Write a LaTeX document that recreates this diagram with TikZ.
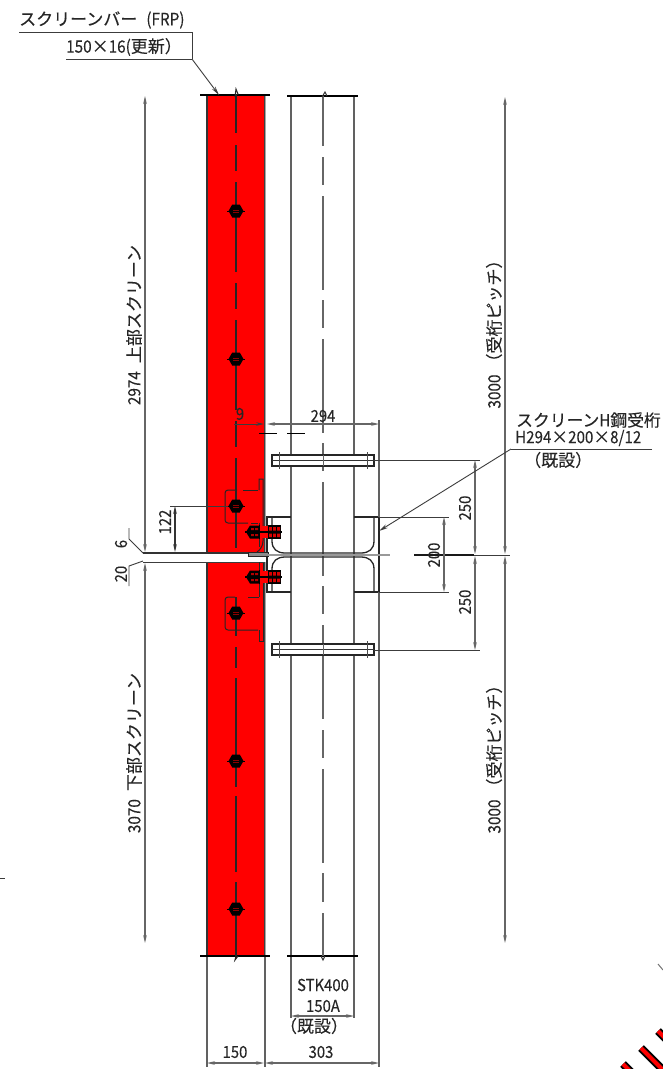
\documentclass[tikz,border=0pt]{standalone}
\usepackage{fontspec}
\setmainfont[FakeBold=0.12]{Noto Sans CJK JP}
\newfontfamily\hw[FakeStretch=0.9,FakeBold=0.12]{Noto Sans CJK JP}
\usetikzlibrary{arrows.meta}
\definecolor{scr}{RGB}{255,0,0}
\definecolor{ln}{RGB}{60,60,60}
\tikzset{
 thinl/.style={draw=ln,line width=0.9pt},
 obj/.style={draw=black!85,line width=1.3pt},
 gry/.style={draw=black!62,line width=1.6pt},
 dim/.style={draw=black!60,line width=1.1pt,{Stealth[length=8pt,width=3.6pt]}-{Stealth[length=8pt,width=3.6pt]}},
 ctr/.style={draw=black!60,line width=1.5pt},
 ctrb/.style={draw=black!85,line width=1.3pt},
 gus/.style={draw=black!85,line width=1pt},
 txt/.style={font=\fontsize{16.5}{17}\selectfont\hw,text=black!85,inner sep=0pt},
 jtx/.style={font=\fontsize{17}{18}\selectfont,text=black!85,inner sep=0pt},
 jts/.style={font=\fontsize{16.8}{18}\selectfont,text=black!85,inner sep=0pt},
}
\begin{document}
\begin{tikzpicture}[x=1pt,y=-1pt]
\useasboundingbox (0,0) rectangle (663,1069);
\fill[white] (0,0) rectangle (663,1069);
% red bars
\fill[scr] (207,95) rectangle (264,552);
\fill[scr] (207,562) rectangle (264,956);
\draw[black!80,line width=1.4pt] (206.8,95)--(206.8,552) (206.8,562)--(206.8,956);
\draw[black!75,line width=1pt] (264,95)--(264,552) (264,562)--(264,956);
\draw[black!35,line width=1.2pt] (265.5,95)--(265.5,552) (265.5,562)--(265.5,956);
\draw[gry] (291,95)--(291,956) (354,95)--(354,956);
% end lines
\draw[line width=1.1pt,black] (200,95)--(270,95) (287,96)--(358,96) (200,956)--(270,956) (287,956)--(358,956);
% centre lines
\foreach \a/\b in {95/133,145/171,182/272,283/309,320/410,421/447,458/548,597/636,647/668,678/787,796/872,882/956}
 \draw[ctrb] (236,\a)--(236,\b);
\draw[ctrb,line width=1pt] (235,97)--(236,89)--(238,94)--(236,95);
\draw[ctrb,line width=1pt] (236,956)--(235,960)--(238,956);
\foreach \a/\b in {96/146,157/185,196/290,300/328,339/433,443/471,482/576,586/614,625/719,730/758,769/863,873/902,913/956}
 \draw[ctr] (323,\a)--(323,\b);
\draw[black!80,line width=1pt] (322,97)--(325,92)--(327,96);
\draw[black!80,line width=1pt] (321,956)--(323,960)--(325,956);
% joint lines
\draw[line width=1.4pt,black!80] (143,553)--(250,553);
\draw[thinl] (143,562)--(264,562);
\draw[line width=1pt,black!85] (248,552.5)--(268,552.5)--(268,556.5)--(248,556.5)--cycle;
\fill[black!45] (248.5,553)--(267.5,553)--(267.5,556)--(248.5,556)--cycle;
% gussets
\draw[gus] (259,490)--(259,479)--(263,479)--(263,541) .. controls (263,546) and (260,550) .. (257,552);
\draw[gus] (259,523)--(259,547);
\draw[gus] (259,630)--(259,641)--(263,641)--(263,563) (259,562)--(259,597);
\draw[gus,rounded corners=3pt] (237,490)--(225,490)--(225,523)--(248,523);
\draw[gus] (243,490)--(258,490) (251,523)--(258,523);
\draw[gus,rounded corners=3pt] (235,597)--(225,597)--(225,630)--(258,630);
\draw[gus] (248,597)--(259,597);
% H-beam
\draw[obj] (291,517)--(267,517)--(267,553) (354,517)--(379,517)--(379,592)--(354,592) (291,592)--(267,592)--(267,557);
\draw[obj] (272,517)--(272,541) .. controls (272,549) and (277,553) .. (285,553)--(361,553) .. controls (369,553) and (374,549) .. (374,541)--(374,517);
\draw[obj] (272,592)--(272,569) .. controls (272,561) and (277,557) .. (285,557)--(361,557) .. controls (369,557) and (374,561) .. (374,569)--(374,592);
\fill[black!40] (268,553.8) rectangle (390,556);
% band plates
\foreach \y/\h in {455/460.5,644/649.5}{
 \fill[white] (272,\y) rectangle (374,\y+11);
 \draw[obj] (272,\y) rectangle (374,\y+11);
 \draw[line width=.9pt,black!80] (272,\h)--(374,\h);
 \draw[line width=.9pt,black!70] (279,\y-3)--(279,\y+14) (367,\y-3)--(367,\y+14);
 \draw[ctr,line width=1pt] (323,\y)--(323,\y+11);
}
% bolts on bars
\foreach \y in {211,359,506,613,761,909}{
 \fill[black] (236,\y) ++(7.5,0) -- ++(-3.75,6.5) -- ++(-7.5,0) -- ++(-3.75,-6.5) -- ++(3.75,-6.5) -- ++(7.5,0) -- cycle;
 \draw[black,line width=.8pt] (227,\y)--(245,\y);
 \draw[scr!55!black,line width=.5pt] (233,\y-1.2)--(239,\y-1.2) (233,\y+1.2)--(239,\y+1.2);
}
% bolts on plate
\foreach \y in {532,577}{
 \fill[black] (246,\y)--(250,\y-6.5)--(259,\y-6.5)--(259,\y+6.5)--(250,\y+6.5)--cycle;
 \fill[scr] (259,\y-6) rectangle (268,\y+6);
 \fill[black] (268,\y-7) rectangle (281,\y+7);
 \fill[scr!85!black] (269,\y-5) rectangle (280,\y-1.5) (269,\y+1.5) rectangle (280,\y+5);
 \fill[scr!70!black] (251,\y-4) rectangle (258,\y-2) (251,\y+2) rectangle (258,\y+4);
 \draw[black,line width=1.2pt] (245,\y)--(282,\y);
 \draw[black,line width=.9pt] (259,\y-7)--(259,\y+7) (268,\y-7)--(268,\y+7);
 \draw[black,line width=.8pt] (272,\y-7)--(272,\y+7) (276,\y-7)--(276,\y+7) (254,\y-6)--(254,\y+6);
}
% extension lines
\draw[gry,line width=1.2pt] (207,957)--(207,1067) (265,957)--(265,1067) (379,420)--(379,517) (379,592)--(379,1067) (291,957)--(291,1018) (354,957)--(354,1018);
\draw[thinl] (374,460)--(480,460) (374,650)--(480,650) (379,517)--(449,517) (379,592)--(449,592);
\draw[thinl] (170,506)--(228,506);
\draw[line width=1.5pt,black!90] (414,555)--(474,555);
\draw[thinl] (474,555)--(510,555);
% dimensions
\draw[dim] (145,96)--(145,552);
\draw[dim] (145,563)--(145,943);
\draw[dim] (505,97)--(505,554);
\draw[dim] (505,556)--(505,943);
\draw[dim] (475,460)--(475,554);
\draw[dim] (475,556)--(475,650);
\draw[dim] (444,517)--(444,592);
\draw[dim,draw=black!80] (175,506)--(175,552);
\draw[dim] (207,1063)--(264,1063);
\draw[dim] (265,1063)--(379,1063);
\draw[dim] (291,1016)--(354,1016);
\draw[thinl,-{Stealth[length=8pt,width=3.6pt]}] (234,424)--(264,424);
\draw[dim] (267,424)--(379,424);
\draw[line width=1pt,black] (259,433)--(277,433) (287,433)--(305,433);
% 6 / 20 leaders
\draw[thinl] (129,528)--(129,539)--(143,553);
\draw[thinl] (129,586)--(129,566)--(143,561);
% callouts
\draw[thinl] (19,32)--(192,32)--(192,59);
\draw[thinl] (66,59)--(192,59);
\draw[thinl,-{Stealth[length=9pt,width=4pt]}] (192,59)--(219,95);
\draw[thinl] (652,449)--(511,449);
\draw[thinl,-{Stealth[length=9pt,width=4pt]}] (511,449)--(379,531);
% stray marks
\draw[thinl] (0,878)--(5,878);
\draw[line width=1pt,black!55] (658,964)--(663,970);
\begin{scope}
\clip (600,950) rectangle (663,1069);
\foreach \a/\b/\c/\d in {623/1064/645/1086,641/1048/675/1082,658/1031/680/1053}{
 \draw[line width=8pt,black] (\a,\b)--(\c,\d);
 \draw[line width=4pt,scr] (\a,\b)--(\c,\d);
}
\end{scope}
% texts
\node[jtx,anchor=west] (t1) at (19,20) {スクリーンバー\hspace{9pt}{\hw (FRP)}};
\node[jtx,anchor=west] (t2) at (66,47) {{\hw 150}×{\hw 16(}更新）};
\node[jts,anchor=west] (t3) at (516,420) {スクリーン{\hw H}鋼受桁};
\node[jts,anchor=west] (t4) at (515,438) {{\hw H294}×{\hw 200}×{\hw 8/12}};
\node[jtx,anchor=west] (t5) at (524,460) {（既設）};
\node[jtx,rotate=90] (t6) at (134,325) {{\hw 2974}\hspace{8pt}上部スクリーン};
\node[jtx,rotate=90] (t7) at (134,753) {{\hw 3070}\hspace{8pt}下部スクリーン};
\node[jtx,rotate=90] (t8) at (494,330) {{\hw 3000}\hspace{4pt}（受桁ピッチ）};
\node[jtx,rotate=90] (t9) at (494,755) {{\hw 3000}\hspace{4pt}（受桁ピッチ）};
\node[txt] (t10) at (240,414) {9};
\node[txt] (t11) at (323,416) {294};
\node[txt,rotate=90] (t12) at (165,522) {122};
\node[txt,rotate=90] (t13) at (121,544) {6};
\node[txt,rotate=90] (t14) at (121,574) {20};
\node[txt,rotate=90] (t15) at (465,508) {250};
\node[txt,rotate=90] (t16) at (465,602) {250};
\node[txt,rotate=90] (t17) at (434,555) {200};
\node[txt] (t18) at (323,985) {STK400};
\node[txt] (t19) at (323,1006) {150A};
\node[jtx] (t20) at (314,1026) {（既設）};
\node[txt] (t21) at (235,1052) {150};
\node[txt] (t22) at (321,1052) {303};
\end{tikzpicture}
\end{document}
